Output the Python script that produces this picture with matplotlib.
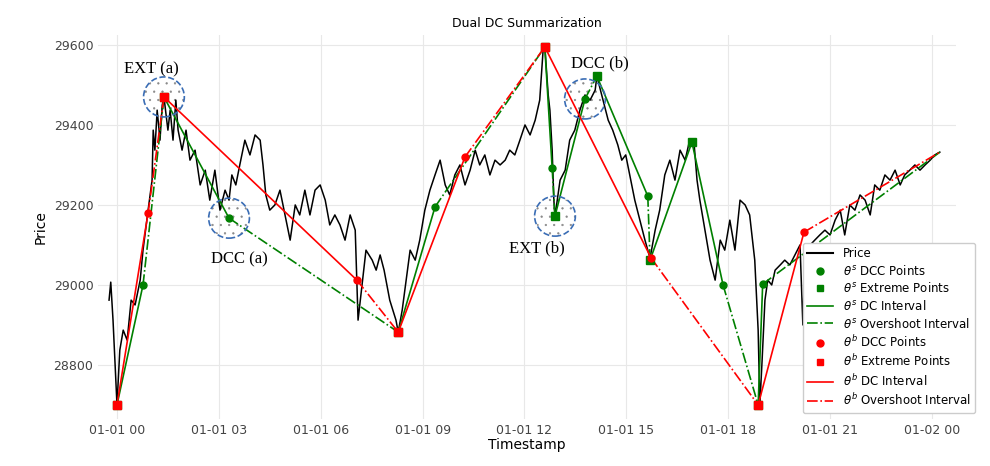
import matplotlib
matplotlib.use("Agg")
import matplotlib.pyplot as plt
from matplotlib.patches import Ellipse
from matplotlib.lines import Line2D

# price series: minutes since 01-01 00:00, price
price_min = [-14,-11,-7,0,5,11,18,25,32,41,46,55,62,64,67,71,76,80,83,90,94,99,104,108,115,122,129,138,147,156,164,173,182,191,198,203,210,217,226,235,244,253,258,263,270,279,288,297,306,315,323,332,341,350,359,368,376,385,394,403,412,421,426,433,440,451,458,465,472,482,493,497,504,511,518,527,535,544,553,562,571,580,588,597,606,615,624,633,641,650,659,668,677,686,694,703,712,721,730,739,747,753,756,762,765,769,772,774,783,792,800,809,818,827,836,845,848,859,868,876,885,892,899,906,915,924,933,942,951,959,968,977,986,995,1004,1012,1020,1025,1030,1039,1048,1057,1066,1074,1083,1092,1101,1110,1118,1127,1133,1136,1140,1145,1150,1157,1163,1172,1180,1189,1198,1207,1212,1216,1225,1233,1242,1251,1260,1269,1278,1286,1295,1304,1313,1322,1331,1339,1348,1357,1366,1375,1384,1392,1401,1410,1419,1428,1437,1445,1454]
price_val = [28962,29007,28912,28700,28837,28887,28862,28962,28950,29012,29087,29187,29262,29387,29337,29437,29362,29450,29470,29387,29437,29362,29462,29387,29337,29387,29312,29337,29250,29287,29212,29287,29187,29237,29212,29275,29250,29300,29362,29325,29375,29362,29300,29225,29187,29200,29237,29175,29112,29200,29175,29237,29175,29237,29250,29212,29150,29175,29150,29112,29175,29137,28912,29000,29087,29062,29037,29075,29037,28962,28912,28882,28937,29012,29087,29062,29112,29187,29237,29275,29312,29250,29225,29275,29300,29250,29287,29337,29300,29325,29275,29312,29300,29312,29337,29325,29362,29400,29375,29412,29462,29587,29597,29475,29437,29337,29212,29172,29262,29287,29362,29387,29437,29475,29462,29487,29522,29462,29412,29387,29350,29312,29325,29275,29212,29162,29112,29067,29137,29187,29275,29312,29262,29337,29312,29362,29350,29262,29212,29137,29062,29012,29112,29087,29162,29087,29212,29200,29175,29062,28887,28700,28812,28962,29012,29000,29037,29050,29062,29050,29075,29100,28900,29087,29100,29112,29125,29137,29125,29162,29187,29125,29200,29187,29225,29212,29175,29250,29237,29275,29262,29287,29250,29275,29287,29300,29287,29300,29312,29325,29332]

# theta_s nodes: minutes, price, kind (E=extreme, D=DCC, N=end)
s_min = [0,46,83,198,497,562,756,769,774,827,848,938,942,1016,1071,1133,1141,1454]
s_val = [28700,29000,29470,29167,28882,29195,29595,29292,29172,29465,29522,29222,29062,29357,29000,28700,29002,29332]
s_kind = ['E','D','E','D','E','D','E','D','E','D','E','D','E','E','D','E','D','N']
# theta_b nodes
b_min = [0,55,83,424,497,615,756,944,1133,1214,1454]
b_val = [28700,29180,29470,29012,28882,29320,29595,29067,28700,29132,29332]
b_kind = ['E','D','E','D','E','D','E','D','E','D','N']

tick_min = [0,180,360,540,720,900,1080,1260,1440]
tick_lab = ['01-01 00','01-01 03','01-01 06','01-01 09','01-01 12','01-01 15','01-01 18','01-01 21','01-02 00']

matplotlib.rcParams['hatch.linewidth'] = 0.4
fig = plt.figure(figsize=(9.9,4.66), dpi=100)
ax = fig.add_axes([0.0993,0.101,0.866,0.824])
for s in ax.spines.values():
    s.set_visible(False)
ax.grid(True, color='#e8e8e8', lw=0.8)
ax.set_axisbelow(True)

ax.plot(price_min, price_val, color='black', lw=1.1, zorder=2)

def draw(mins, vals, kinds, col):
    for i in range(len(mins)-1):
        k0 = kinds[i]; k1 = kinds[i+1]
        ls = '-.' if (k0 == 'D' and k1 in ('E','N')) else '-'
        ax.plot(mins[i:i+2], vals[i:i+2], color=col, ls=ls, lw=1.2, zorder=3)
    for m, v, k in zip(mins, vals, kinds):
        if k == 'E':
            ax.plot(m, v, 's', color=col, ms=5.5, zorder=4)
        elif k == 'D':
            ax.plot(m, v, 'o', color=col, ms=5, zorder=4)

draw(s_min, s_val, s_kind, 'green')
draw(b_min, b_val, b_kind, 'red')

circles = [(83,29470),(198,29167),(774,29172),(827,29465)]
for cx, cy in circles:
    e1 = Ellipse((cx,cy), 72, 100, facecolor='none', edgecolor='#888888', hatch='..', lw=0, zorder=1)
    ax.add_patch(e1)
    e2 = Ellipse((cx,cy), 72, 100, facecolor='none', edgecolor='#3a6db5', ls='--', lw=1.2, zorder=5)
    ax.add_patch(e2)

fs = dict(family='Liberation Serif', fontsize=12)
ax.text(12, 29530, 'EXT (a)', **fs)
ax.text(167, 29055, 'DCC (a)', **fs)
ax.text(692, 29082, 'EXT (b)', **fs)
ax.text(802, 29545, 'DCC (b)', **fs)

ax.set_xlim(-33, 1482)
ax.set_ylim(28665, 29625)
ax.set_xticks(tick_min)
ax.set_xticklabels(tick_lab)
ax.set_yticks([28800,29000,29200,29400,29600])
ax.tick_params(length=0, labelsize=9, labelcolor='#444444')
ax.set_xlabel('Timestamp', fontsize=10, labelpad=1)
ax.set_ylabel('Price', fontsize=10)
ax.set_title('Dual DC Summarization', fontsize=9, pad=6)

handles = [
    Line2D([],[],color='black',lw=1.5,label='Price'),
    Line2D([],[],color='green',marker='o',ls='none',ms=5,label=r'$\theta^s$ DCC Points'),
    Line2D([],[],color='green',marker='s',ls='none',ms=5,label=r'$\theta^s$ Extreme Points'),
    Line2D([],[],color='green',lw=1.2,label=r'$\theta^s$ DC Interval'),
    Line2D([],[],color='green',lw=1.2,ls='-.',label=r'$\theta^s$ Overshoot Interval'),
    Line2D([],[],color='red',marker='o',ls='none',ms=5,label=r'$\theta^b$ DCC Points'),
    Line2D([],[],color='red',marker='s',ls='none',ms=5,label=r'$\theta^b$ Extreme Points'),
    Line2D([],[],color='red',lw=1.2,label=r'$\theta^b$ DC Interval'),
    Line2D([],[],color='red',lw=1.2,ls='-.',label=r'$\theta^b$ Overshoot Interval'),
]
ax.legend(handles=handles, loc='lower right', fontsize=8.5, labelspacing=0.3,
          handlelength=2.2, borderpad=0.4, framealpha=1, edgecolor='#cccccc',
          bbox_to_anchor=(1.03, 0.0))
fig.savefig('out.png', dpi=100)
